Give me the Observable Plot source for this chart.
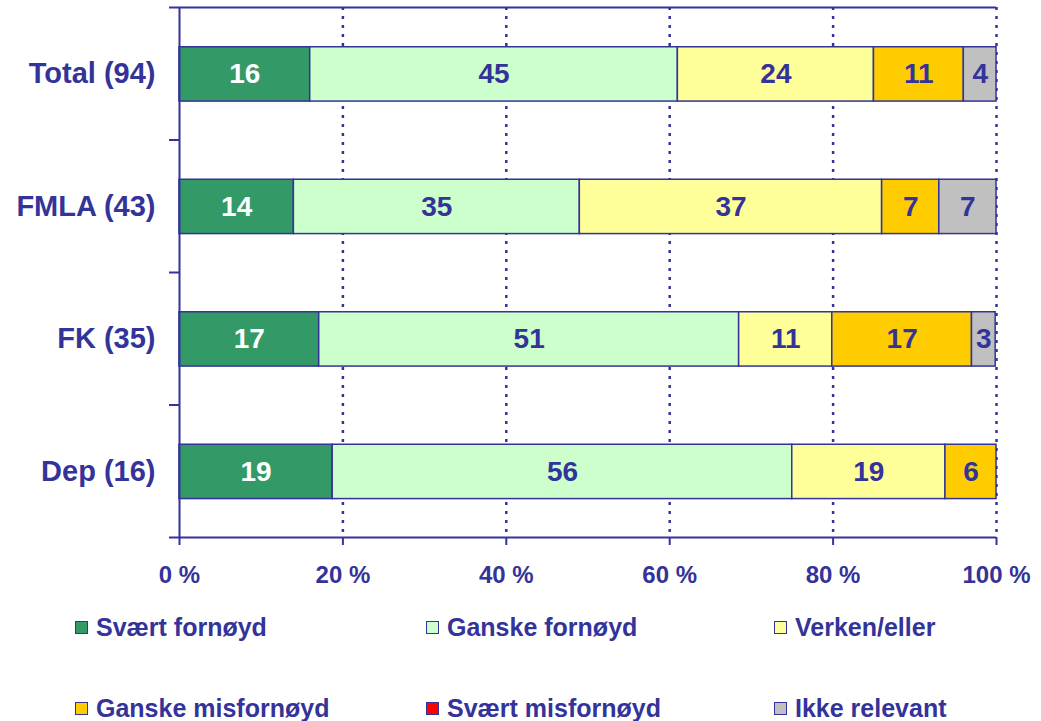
<!DOCTYPE html>
<html><head><meta charset="utf-8">
<script src="https://cdn.jsdelivr.net/npm/d3@7"></script>
<script src="https://cdn.jsdelivr.net/npm/@observablehq/plot@0.6"></script>
<style>
body{margin:0;background:#fff;font-family:"Liberation Sans",Arial,sans-serif;}
#chart{position:relative;width:1041px;height:721px;overflow:hidden;}
.item{position:absolute;display:flex;align-items:center;height:26px;line-height:26px;font-size:25px;font-weight:bold;color:#333399;white-space:nowrap;}
.sw{width:11px;height:11px;border:1.5px solid #333399;margin-right:8px;flex:none;}
</style></head><body><div id="chart"></div>
<script>
const categories = ["Total (94)", "FMLA (43)", "FK (35)", "Dep (16)"];
const series = ["Svært fornøyd", "Ganske fornøyd", "Verken/eller", "Ganske misfornøyd", "Svært misfornøyd", "Ikke relevant"];
const colors = ["#339966", "#CCFFCC", "#FFFF99", "#FFCC00", "#FF0000", "#C0C0C0"];
const totalValues = [16, 45, 24, 11, 0, 4];
const fmlaValues = [14, 35, 37, 7, 0, 7];
const fkValues = [17.1, 51.4, 11.4, 17.1, 0, 2.9];
const depValues = [18.75, 56.25, 18.75, 6.25, 0, 0];
const xTicks = [0, 20, 40, 60, 80, 100];

const navy = "#333399";
const valueRows = [totalValues, fmlaValues, fkValues, depValues];
const table = [];
valueRows.forEach((vals, i) => {
  let cum = 0;
  vals.forEach((v, j) => {
    if (v > 0) table.push({cat: categories[i], i, series: series[j], value: v, x1: cum, x2: cum + v, label: String(Math.round(v))});
    cum += v;
  });
});
const boundaries = d3.range(categories.length + 1);
const centers = categories.map((c, i) => i + 0.5);

const chart = Plot.plot({
  width: 1041,
  height: 600,
  marginTop: 7,
  marginBottom: 63,
  marginLeft: 179,
  marginRight: 45,
  style: {fontFamily: "'Liberation Sans', Arial, sans-serif", color: navy, background: "white", overflow: "visible"},
  x: {domain: [0, 100]},
  y: {domain: [0, categories.length], reverse: true},
  color: {domain: series, range: colors},
  marks: [
    Plot.ruleX(xTicks.slice(1), {stroke: navy, strokeWidth: 2.5, strokeDasharray: "3,6"}),
    Plot.rectX(table, {x1: "x1", x2: "x2", y1: d => d.i + 0.3, y2: d => d.i + 0.71, fill: "series", stroke: navy, strokeWidth: 1.5}),
    Plot.text(table.filter(d => d.series === series[0]), {x: d => (d.x1 + d.x2) / 2, y: d => d.i + 0.505, text: "label", fill: "white", fontSize: 28, fontWeight: "bold"}),
    Plot.text(table.filter(d => d.series !== series[0]), {x: d => (d.x1 + d.x2) / 2, y: d => d.i + 0.505, text: "label", fill: navy, fontSize: 28, fontWeight: "bold"}),
    Plot.ruleX([0], {stroke: navy, strokeWidth: 2}),
    Plot.ruleY([0, categories.length], {stroke: navy, strokeWidth: 2}),
    Plot.axisY({ticks: boundaries, tickSize: 10, tickFormat: () => "", stroke: navy, strokeWidth: 2}),
    Plot.axisY({ticks: centers, tickSize: 0, tickPadding: 24, tickFormat: v => categories[Math.floor(v)], fontSize: 29, fontWeight: "bold", fill: navy}),
    Plot.axisX({ticks: xTicks, tickSize: 8, tickPadding: 20, tickFormat: d => d + " %", fontSize: 24, fontWeight: "bold", fill: navy, stroke: navy, strokeWidth: 2, label: null})
  ]
});
const root = document.getElementById("chart");
root.appendChild(chart);

const colX = [75, 426, 774];
const rowY = [614, 695];
series.forEach((s, j) => {
  const el = document.createElement("div");
  el.className = "item";
  el.style.left = colX[j % 3] + "px";
  el.style.top = rowY[Math.floor(j / 3)] + "px";
  const sw = document.createElement("span");
  sw.className = "sw";
  sw.style.background = colors[j];
  el.appendChild(sw);
  el.appendChild(document.createTextNode(s));
  root.appendChild(el);
});
</script>
</body></html>
